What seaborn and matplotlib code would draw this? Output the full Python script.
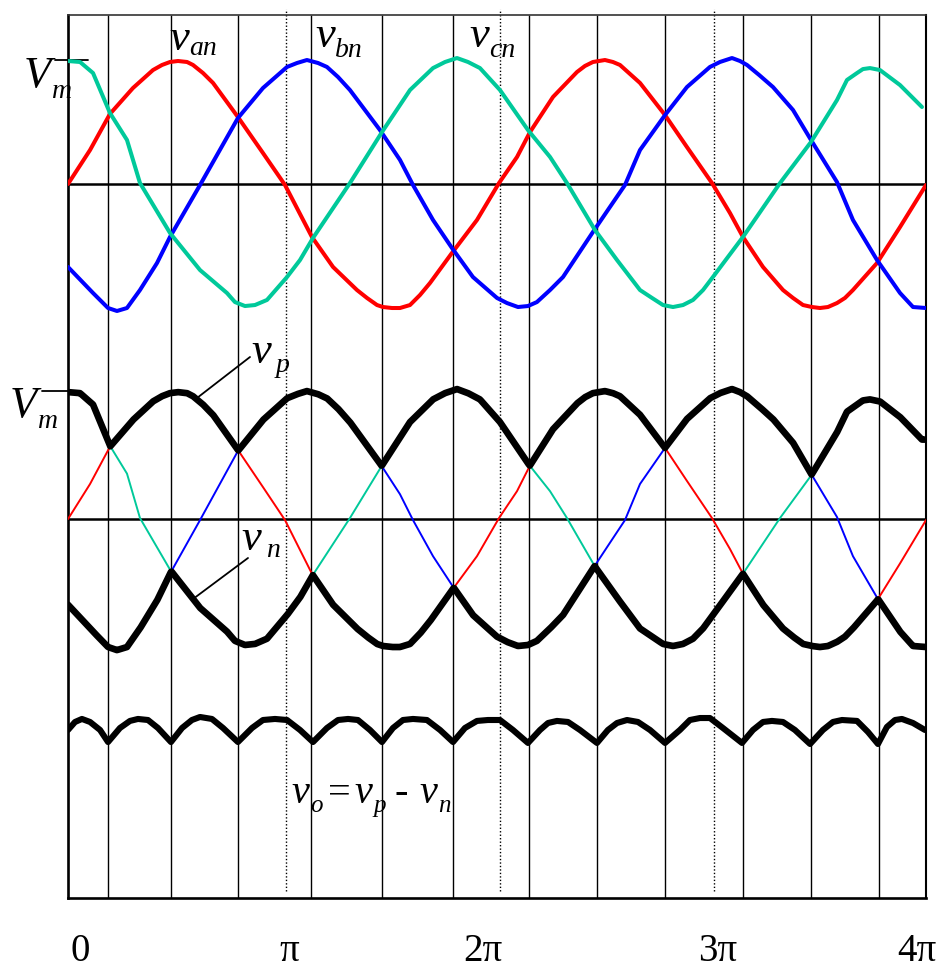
import numpy as np
import pandas as pd
import matplotlib
matplotlib.use("Agg")
import matplotlib.pyplot as plt
import seaborn as sns

# angle in degrees (0..720 = 0..4pi), voltage in units of Vm
van_deg = [0, 18.5, 35.2, 54.5, 71.3, 78.9, 85.6, 92.3, 99.9, 104.9, 113.3, 121.7, 142.6,
           163.6, 182.1, 204.7, 222.4, 242.5, 250.9, 259.3, 264.3, 271.9, 278.6, 287.0,
           295.4, 303.8, 322.2, 343.2, 361.7, 376.8, 387.7, 407.0, 427.1, 433.8, 440.5,
           450.6, 457.3, 463.2, 480.0, 501.0, 519.4, 540.4, 555.5, 566.4, 583.2, 600.0,
           608.4, 616.8, 624.3, 631.0, 637.7, 645.3, 652.0, 658.7, 678.9, 698.2, 720.0]
van_v = [0, 0.274, 0.565, 0.774, 0.919, 0.960, 0.984, 0.992, 0.984, 0.960, 0.895, 0.815, 0.540,
         0.250, -0.008, -0.427, -0.669, -0.855, -0.919, -0.976, -0.992, -1.000, -1.000, -0.976,
         -0.895, -0.798, -0.556, -0.290, 0.008, 0.218, 0.419, 0.702, 0.903, 0.952, 0.984,
         1.000, 0.984, 0.960, 0.815, 0.556, 0.298, 0.008, -0.234, -0.427, -0.669, -0.855,
         -0.919, -0.976, -0.992, -1.000, -0.992, -0.960, -0.919, -0.855, -0.637, -0.347, -0.008]

vbn_deg = [0, 21.0, 33.6, 41.1, 49.5, 60.4, 74.7, 85.6, 110.8, 142.6, 163.6, 183.8, 192.2,
           200.5, 209.8, 217.3, 226.6, 236.6, 261.8, 278.6, 289.5, 306.3, 322.2, 339.8,
           360.0, 368.4, 377.6, 386.0, 393.5, 404.5, 415.4, 440.5, 454.8, 467.4, 480.0,
           501.0, 519.4, 538.7, 547.1, 557.2, 563.9, 569.8, 580.0, 591.6, 608.4, 623.5,
           645.3, 658.7, 678.9, 698.2, 709.1, 720.0]
vbn_v = [-0.669, -0.879, -1.000, -1.024, -1.000, -0.855, -0.637, -0.427, -0.008, 0.532, 0.774,
         0.944, 0.976, 1.000, 0.976, 0.944, 0.863, 0.758, 0.435, 0.194, -0.008, -0.290,
         -0.516, -0.750, -0.919, -0.960, -0.992, -0.984, -0.952, -0.855, -0.750, -0.387,
         -0.185, -0.008, 0.274, 0.556, 0.782, 0.944, 0.984, 1.016, 0.992, 0.960, 0.879,
         0.782, 0.597, 0.355, 0.016, -0.290, -0.613, -0.879, -0.992, -1.000]

vcn_deg = [0, 10.1, 21.0, 35.2, 49.5, 60.4, 85.6, 110.8, 133.4, 140.1, 148.5, 156.9, 167.0,
           183.8, 194.7, 205.6, 236.6, 263.5, 287.0, 306.3, 316.4, 326.4, 335.7, 345.7,
           362.5, 386.0, 404.5, 418.7, 442.2, 460.7, 480.0, 490.1, 499.3, 507.7, 516.1,
           524.5, 532.9, 541.2, 566.4, 597.5, 623.5, 645.3, 653.7, 662.1, 667.1, 673.0,
           681.4, 698.2, 716.6]
vcn_v = [0.992, 0.984, 0.895, 0.573, 0.355, 0.008, -0.395, -0.694, -0.879, -0.952, -0.984,
         -0.976, -0.935, -0.750, -0.613, -0.435, 0.008, 0.419, 0.758, 0.935, 0.984, 1.016,
         0.984, 0.935, 0.758, 0.435, 0.218, 0.008, -0.371, -0.613, -0.855, -0.919, -0.976,
         -0.992, -0.976, -0.935, -0.855, -0.750, -0.427, 0.008, 0.339, 0.677, 0.839, 0.895,
         0.927, 0.935, 0.919, 0.798, 0.621]

# output voltage vo = vp - vn (units of Vm)
vo_deg = [0, 5.9, 11.7, 18.5, 26.9, 33.6, 43.6, 52.0, 58.7, 67.1, 75.5, 86.4,
          95.7, 104.0, 110.8, 120.8, 130.1, 142.6, 154.4, 163.6, 173.7, 183.8, 194.7,
          205.6, 217.3, 226.6, 235.0, 243.3, 253.4, 263.5, 272.7, 281.1, 289.5, 301.2,
          312.2, 323.1, 333.1, 343.2, 352.4, 362.5, 373.4, 386.0, 396.1, 402.8, 410.3,
          419.6, 429.6, 443.9, 453.1, 460.7, 469.1, 478.3, 488.4, 501.0, 513.5, 521.9,
          530.3, 538.7, 549.6, 565.6, 574.8, 583.2, 590.7, 600.0, 610.0, 622.7, 633.5,
          641.9, 649.5, 662.1, 671.3, 679.7, 687.2, 694.0, 699.8, 709.1, 719.1]
vo_v = [1.617, 1.694, 1.723, 1.694, 1.617, 1.501, 1.636, 1.704, 1.723, 1.713, 1.636, 1.501,
        1.636, 1.713, 1.742, 1.723, 1.636, 1.501, 1.636, 1.713, 1.723, 1.713, 1.617,
        1.501, 1.636, 1.713, 1.723, 1.713, 1.617, 1.501, 1.636, 1.713, 1.723, 1.713,
        1.617, 1.501, 1.636, 1.704, 1.713, 1.713, 1.617, 1.492, 1.617, 1.684, 1.704,
        1.694, 1.617, 1.492, 1.617, 1.684, 1.713, 1.694, 1.617, 1.492, 1.617, 1.713,
        1.732, 1.732, 1.636, 1.492, 1.617, 1.694, 1.704, 1.694, 1.617, 1.482, 1.617,
        1.694, 1.713, 1.704, 1.598, 1.482, 1.646, 1.713, 1.723, 1.684, 1.617]

# commutation lines and zero crossings of van
commutation_deg = [33.6, 86.4, 142.7, 203.9, 263.5, 323.1, 386.8, 443.9, 501.0,
                   566.4, 623.5, 680.5]
zero_cross_deg = [182.9, 362.5, 542.1]

tick_pos = [10.1, 185.4, 348.2, 545.4, 712.4]
tick_labels = ["0", "π", "2π", "3π", "4π"]

# panel placement (vertical offsets / gains in Vm units)
MID_OFF, MID_GAIN = -2.702, 1.032
BOT_OFF, BOT_GAIN = -5.758, 0.838
Y_TOP = 1.363

RED, BLUE, GREEN = "#ff0000", "#0000ff", "#00c99a"

sns.set_theme(style="white")
plt.rcParams["font.family"] = ["Liberation Serif", "DejaVu Serif"]
plt.rcParams["text.color"] = "black"
plt.rcParams["xtick.color"] = "black"
plt.rcParams["axes.edgecolor"] = "black"

W, H = 945, 968
fig = plt.figure(figsize=(W / 100, H / 100), dpi=100)
ax = fig.add_axes([68 / W, 1 - 898 / H, (926 - 68) / W, (898 - 15) / H])
ax.set_xlim(0, 720)
ax.set_ylim(BOT_OFF, Y_TOP)


def fpx(x, y):
    return x / W, 1 - y / H


# grid of commutation lines
ax.vlines(commutation_deg, BOT_OFF, Y_TOP, color="black", lw=1.0, zorder=1)
ax.vlines(zero_cross_deg, BOT_OFF + 0.06, Y_TOP + 0.05, color="black", lw=1.0,
          linestyles=(0, (1, 1.5)), zorder=1, clip_on=False)
ax.hlines([0, MID_OFF], 0, 720, color="black", lw=1.8, zorder=1)

# top panel: three phase voltages
phases = [(van_deg, van_v, RED), (vbn_deg, vbn_v, BLUE), (vcn_deg, vcn_v, GREEN)]
for deg, v, col in phases:
    df = pd.DataFrame({"deg": deg, "v": v})
    sns.lineplot(data=df, x="deg", y="v", color=col, lw=2.9, ax=ax,
                 solid_joinstyle="round", solid_capstyle="round", zorder=3)

# middle panel: thin phases plus positive / negative envelopes
grid = np.linspace(0, 720, 1441)
stack = np.vstack([np.interp(grid, deg, v) for deg, v, _ in phases])
for deg, v, col in phases:
    df = pd.DataFrame({"deg": deg, "v": MID_OFF + MID_GAIN * np.array(v)})
    sns.lineplot(data=df, x="deg", y="v", color=col, lw=1.4, ax=ax, zorder=3)
env = pd.DataFrame({"deg": grid,
                    "vp": MID_OFF + MID_GAIN * stack.max(axis=0),
                    "vn": MID_OFF + MID_GAIN * stack.min(axis=0)})
sns.lineplot(data=env, x="deg", y="vp", color="black", lw=4.8, ax=ax, zorder=4,
             solid_joinstyle="round", solid_capstyle="round")
sns.lineplot(data=env, x="deg", y="vn", color="black", lw=4.8, ax=ax, zorder=4,
             solid_joinstyle="round", solid_capstyle="round")

# bottom panel: output voltage
vo_df = pd.DataFrame({"deg": vo_deg, "v": BOT_OFF + BOT_GAIN * np.array(vo_v)})
sns.lineplot(data=vo_df, x="deg", y="v", color="black", lw=4.4, ax=ax, zorder=4,
             solid_joinstyle="round", solid_capstyle="round")

# Vm markers
ax.plot([-10.9, 16.8], [1, 1], color="black", lw=1.3, clip_on=False)
ax.plot([-21.8, 5.9], [MID_OFF + MID_GAIN] * 2, color="black", lw=1.3, clip_on=False)

# frame
for side in ["left", "bottom"]:
    ax.spines[side].set_linewidth(1.9)
ax.spines["top"].set_linewidth(1.2)
ax.spines["top"].set_color("#333333")
ax.spines["right"].set_linewidth(1.5)
for s in ax.spines.values():
    s.set_visible(True)
ax.set_xlabel("")
ax.set_ylabel("")
ax.set_yticks([])
ax.set_xticks(tick_pos, tick_labels, fontsize=28)
ax.tick_params(axis="x", length=0, pad=25)


def label(x, y, main, sub, sub_dx, sub_dy, size=32, sub_size=20):
    fig.text(*fpx(x, y), main, fontsize=size, style="italic", va="baseline")
    fig.text(*fpx(x + sub_dx, y + sub_dy), sub, fontsize=sub_size, style="italic",
             va="baseline")


label(169, 50, "v", "an", 20, 5)
label(315, 47, "v", "bn", 20, 10)
label(469, 47, "v", "cn", 20, 10)
label(24, 87, "V", "m", 28, 11, size=32)
label(10, 417, "V", "m", 28, 11, size=32)
label(251, 363, "v", "p", 25, 9)
label(241, 550, "v", "n", 25, 7)

# vo = vp - vn
label(291, 803, "v", "o", 19, 9, size=29, sub_size=18)
fig.text(*fpx(328, 803), "=", fontsize=29, va="baseline")
label(354, 803, "v", "p", 19, 9, size=29, sub_size=18)
fig.text(*fpx(395, 803), "-", fontsize=29, va="baseline")
label(419, 803, "v", "n", 19, 9, size=29, sub_size=18)

# leader lines to envelope curves
for (x0, y0), (x1, y1) in [((250, 357), (197, 398)), ((248, 558), (193, 599))]:
    fig.add_artist(plt.Line2D([x0 / W, x1 / W], [1 - y0 / H, 1 - y1 / H],
                              color="black", lw=1.3))

fig.savefig("out.png", dpi=100)
